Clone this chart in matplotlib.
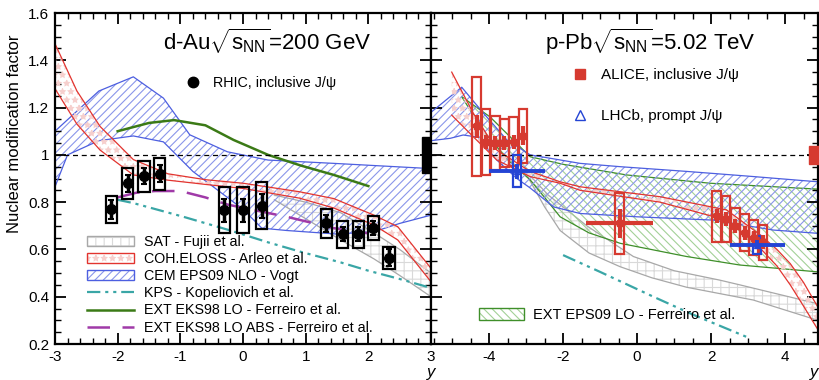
import numpy as np
import matplotlib
matplotlib.use('Agg')
import matplotlib.pyplot as plt
from matplotlib.patches import Patch, Rectangle
from matplotlib.lines import Line2D
from matplotlib.legend_handler import HandlerTuple
from matplotlib.ticker import MultipleLocator, FuncFormatter
import matplotlib.transforms as mtransforms

plt.rcParams['font.family'] = ['Liberation Sans', 'DejaVu Sans']
plt.rcParams['mathtext.fontset'] = 'custom'
plt.rcParams['mathtext.rm'] = 'Liberation Sans'
plt.rcParams['mathtext.it'] = 'Liberation Sans:italic'
plt.rcParams['hatch.linewidth'] = 0.8

# ---------------- data: d-Au 200 GeV (RHIC) ----------------
rhic_y = [-2.10, -1.84, -1.58, -1.33, -0.30, 0.0, 0.30, 1.33, 1.59, 1.84, 2.08, 2.33]
rhic_R = [0.77, 0.88, 0.91, 0.92, 0.765, 0.765, 0.785, 0.71, 0.665, 0.665, 0.69, 0.565]
rhic_stat = [0.04, 0.035, 0.035, 0.035, 0.05, 0.05, 0.05, 0.035, 0.03, 0.03, 0.03, 0.035]
rhic_syst = [0.057, 0.065, 0.065, 0.068, 0.097, 0.097, 0.10, 0.06, 0.057, 0.057, 0.05, 0.047]
rhic_global = 0.075

# models, left panel
sat_l_x = [0.5, 1.0, 1.56, 2.09, 2.5, 3.0]
sat_l_up = [0.83, 0.80, 0.755, 0.67, 0.60, 0.50]
sat_l_lo = [0.81, 0.73, 0.64, 0.56, 0.49, 0.40]

coh_l_x = [-3.0, -2.65, -2.28, -1.75, -1.2, -0.6, 0.0, 0.9, 1.45, 2.09, 2.47, 3.0]
coh_l_up = [1.47, 1.27, 1.12, 0.98, 0.92, 0.895, 0.88, 0.844, 0.815, 0.745, 0.696, 0.52]
coh_l_lo = [1.28, 1.13, 1.02, 0.915, 0.893, 0.875, 0.858, 0.817, 0.775, 0.703, 0.64, 0.463]

cem_l_xup = [-3.0, -2.3, -1.75, -1.27, -0.85, -0.25, 0.4, 1.45, 2.85, 3.0]
cem_l_up = [1.10, 1.27, 1.33, 1.24, 1.085, 1.013, 0.978, 0.964, 0.944, 0.945]
cem_l_xlo = [-3.0, -2.8, -2.3, -1.75, -1.27, -0.8, -0.4, 0.0, 0.3, 0.7, 1.5, 2.09, 2.5, 3.0]
cem_l_lo = [0.865, 1.0, 1.06, 1.08, 1.055, 0.93, 0.85, 0.77, 0.69, 0.68, 0.665, 0.675, 0.71, 0.745]

kps_l_x = [-2.0, -1.75, -0.95, -0.2, 0.4, 0.92, 1.56, 2.0, 2.5, 3.0]
kps_l = [0.81, 0.796, 0.738, 0.68, 0.63, 0.59, 0.545, 0.51, 0.475, 0.437]

eks_x = [-2.0, -1.5, -1.1, -0.6, -0.15, 0.4, 0.92, 1.45, 2.0]
eks = [1.10, 1.135, 1.147, 1.125, 1.063, 1.0, 0.955, 0.915, 0.868]

eks_abs_x = [-2.0, -1.7, -1.4, -1.0, -0.6, -0.25, 0.2, 0.7, 1.45, 2.0]
eks_abs = [0.82, 0.84, 0.847, 0.847, 0.82, 0.79, 0.765, 0.738, 0.69, 0.668]

# ---------------- data: p-Pb 5.02 TeV (LHC) ----------------
alice_y = [-4.335, -4.085, -3.835, -3.585, -3.335, -3.085, -0.47,
           2.155, 2.405, 2.655, 2.905, 3.155, 3.405]
alice_dy = [0.125, 0.125, 0.125, 0.125, 0.125, 0.125, 0.90,
            0.125, 0.125, 0.125, 0.125, 0.125, 0.125]
alice_R = [1.12, 1.055, 1.05, 1.05, 1.055, 1.08, 0.71,
           0.74, 0.73, 0.70, 0.67, 0.65, 0.63]
alice_stat = [0.05, 0.03, 0.03, 0.03, 0.03, 0.04, 0.06,
              0.03, 0.03, 0.03, 0.03, 0.03, 0.03]
alice_syst = [0.21, 0.14, 0.115, 0.10, 0.104, 0.113, 0.13,
              0.108, 0.098, 0.077, 0.078, 0.074, 0.073]
alice_global = 0.037

lhcb_y = [-3.25, 3.25]
lhcb_dy = [0.75, 0.75]
lhcb_R = [0.93, 0.62]
lhcb_stat = [0.03, 0.02]
lhcb_syst = [0.068, 0.038]

cem_r_xup = [-5.57, -4.74, -4.15, -3.52, -2.89, -1.54, -0.46, 1.34, 3.0, 4.89]
cem_r_up = [1.18, 1.286, 1.176, 1.063, 1.0, 0.964, 0.95, 0.93, 0.91, 0.886]
cem_r_xlo = [-5.57, -5.05, -4.7, -4.3, -3.79, -3.25, -2.89, -2.26, -1.54, 0.0, 2.06, 3.68, 4.89]
cem_r_lo = [1.06, 1.07, 1.084, 1.075, 0.978, 0.90, 0.86, 0.78, 0.752, 0.738, 0.724, 0.682, 0.668]

eps_xup = [-4.74, -3.97, -3.43, -2.89, -2.0, -0.28, 1.97, 4.89]
eps_up = [1.246, 1.16, 1.076, 0.992, 0.96, 0.915, 0.88, 0.855]
eps_xlo = [-4.74, -4.15, -3.5, -2.89, -2.5, -2.08, -1.3, -0.46, 1.34, 2.78, 4.89]
eps_lo = [1.246, 1.10, 0.98, 0.894, 0.82, 0.738, 0.67, 0.626, 0.57, 0.534, 0.505]

sat_r_xup = [-3.0, -2.4, -1.36, -0.1, 1.0, 2.24, 2.78, 4.89]
sat_r_up = [0.93, 0.83, 0.70, 0.57, 0.51, 0.47, 0.45, 0.37]
sat_r_xlo = [-3.0, -2.5, -2.08, -1.3, -0.46, 0.4, 1.34, 3.14, 4.89]
sat_r_lo = [0.92, 0.78, 0.68, 0.585, 0.527, 0.48, 0.44, 0.386, 0.30]

coh_r_xup = [-5.01, -4.43, -3.79, -2.89, -2.08, -1.54, 0.62, 2.42, 2.78, 3.3, 3.78, 4.14, 4.5, 4.89]
coh_r_up = [1.35, 1.177, 1.02, 0.93, 0.886, 0.865, 0.823, 0.767, 0.725, 0.665, 0.60, 0.54, 0.46, 0.355]
coh_r_xlo = [-5.01, -4.43, -3.79, -2.89, -2.08, -1.54, 0.62, 2.42, 2.78, 3.3, 3.78, 4.14, 4.5, 4.89]
coh_r_lo = [1.168, 1.077, 0.978, 0.908, 0.88, 0.85, 0.80, 0.724, 0.68, 0.61, 0.53, 0.45, 0.36, 0.26]

kps_r_x = [-2.0, -1.0, 0.44, 1.5, 2.96]
kps_r = [0.576, 0.505, 0.40, 0.325, 0.23]

# ---------------- styles ----------------
c_cem, c_cem_h = '#4d5fe0', '#8a96ea'
c_coh, c_coh_h = '#e2342f', '#f6cfcd'
c_sat, c_sat_h = '#a8a8a8', '#d9d9d9'
c_eps, c_eps_h = '#3f8f2a', '#a3d197'
c_eks = '#3b7a16'
c_abs = '#a03aa8'
c_kps = '#3aa6a6'
c_alice = '#d63a30'
c_lhcb = '#2444d4'
kps_dash = (6, 2.2, 1.4, 2.2, 1.4, 2.2)
coh_hatch = '**'


def band(ax, xu, yu, xl, yl, hatch, hcolor, lcolor, lw=0.9, z=1):
    xs = np.concatenate([xu, xl[::-1]])
    ys = np.concatenate([yu, yl[::-1]])
    ax.fill(xs, ys, facecolor='none', edgecolor=hcolor, hatch=hatch, lw=0, zorder=z)
    ax.plot(xu, yu, color=lcolor, lw=lw, zorder=z + 0.1)
    ax.plot(xl, yl, color=lcolor, lw=lw, zorder=z + 0.1)


def syst_boxes(ax, x, y, s, w, color, lw=1.6):
    for xi, yi, si in zip(x, y, s):
        ax.add_patch(Rectangle((xi - w / 2, yi - si), w, 2 * si, fill=False,
                               edgecolor=color, lw=lw, zorder=6))


fig = plt.figure(figsize=(8.2, 3.8), dpi=100)
axL = fig.add_axes([55 / 820, 36 / 380, 376 / 820, 331 / 380])
axR = fig.add_axes([431 / 820, 36 / 380, 387 / 820, 331 / 380], sharey=axL)

# ---- left panel ----
band(axL, sat_l_x, sat_l_up, sat_l_x, sat_l_lo, '++', c_sat_h, c_sat, z=1)
band(axL, coh_l_x, coh_l_up, coh_l_x, coh_l_lo, coh_hatch, c_coh_h, c_coh, z=2)
band(axL, cem_l_xup, cem_l_up, cem_l_xlo, cem_l_lo, '////', c_cem_h, c_cem, z=1.5)
axL.plot(kps_l_x, kps_l, color=c_kps, lw=1.6, dashes=kps_dash, zorder=3)
axL.plot(eks_x, eks, color=c_eks, lw=1.8, zorder=3)
axL.plot(eks_abs_x, eks_abs, color=c_abs, lw=1.8, dashes=(9, 5), zorder=3)

syst_boxes(axL, rhic_y, rhic_R, rhic_syst, 0.18, 'k')
axL.errorbar(rhic_y, rhic_R, yerr=rhic_stat, fmt='o', color='k', ms=7,
             elinewidth=2.5, capsize=2, capthick=1.5, zorder=7)

trL = mtransforms.blended_transform_factory(axL.transAxes, axL.transData)
axL.add_patch(Rectangle((0.975, 1 - rhic_global), 0.03, 2 * rhic_global,
                        transform=trL, color='k', clip_on=False, zorder=8))

# ---- right panel ----
band(axR, sat_r_xup, sat_r_up, sat_r_xlo, sat_r_lo, '++', c_sat_h, c_sat, z=1)
band(axR, eps_xup, eps_up, eps_xlo, eps_lo, '\\\\\\\\', c_eps_h, c_eps, z=1.2)
band(axR, cem_r_xup, cem_r_up, cem_r_xlo, cem_r_lo, '////', c_cem_h, c_cem, z=1.5)
band(axR, coh_r_xup, coh_r_up, coh_r_xlo, coh_r_lo, coh_hatch, c_coh_h, c_coh, z=2)
axR.plot(kps_r_x, kps_r, color=c_kps, lw=1.6, dashes=kps_dash, zorder=3)

syst_boxes(axR, alice_y, alice_R, alice_syst, 0.24, c_alice)
axR.errorbar(alice_y, alice_R, xerr=alice_dy, yerr=alice_stat, fmt='s',
             color=c_alice, ms=5, elinewidth=3, capsize=0, zorder=7)
syst_boxes(axR, lhcb_y, lhcb_R, lhcb_syst, 0.22, c_lhcb)
axR.errorbar(lhcb_y, lhcb_R, xerr=lhcb_dy, yerr=lhcb_stat, fmt='^',
             color=c_lhcb, mfc='none', ms=5, elinewidth=2.8, capsize=0, zorder=8)

trR = mtransforms.blended_transform_factory(axR.transAxes, axR.transData)
axR.add_patch(Rectangle((0.977, 1 - alice_global), 0.025, 2 * alice_global,
                        transform=trR, color=c_alice, clip_on=False, zorder=8))

# ---- axes cosmetics ----
for ax in (axL, axR):
    ax.axhline(1.0, color='k', lw=0.9, dashes=(4, 3), zorder=4)
    for sp in ax.spines.values():
        sp.set_linewidth(1.6)
    ax.tick_params(which='both', direction='in', top=True, right=True,
                   labelsize=11, pad=4)
    ax.tick_params(which='major', length=8, width=1.3)
    ax.tick_params(which='minor', length=4.5, width=1.0)
    ax.yaxis.set_major_locator(MultipleLocator(0.2))
    ax.yaxis.set_minor_locator(MultipleLocator(0.05))
    ax.xaxis.set_major_formatter(FuncFormatter(lambda v, p: '%g' % v))
    ax.yaxis.set_major_formatter(FuncFormatter(lambda v, p: '%g' % round(v, 2)))

axL.set_xlim(-3, 3)
axL.set_ylim(0.2, 1.6)
axL.xaxis.set_major_locator(MultipleLocator(1))
axL.xaxis.set_minor_locator(MultipleLocator(0.2))
axR.set_xlim(-5.57, 4.89)
axR.xaxis.set_major_locator(MultipleLocator(2))
axR.xaxis.set_minor_locator(MultipleLocator(0.5))
axR.tick_params(labelleft=False)

fig.text(15 / 820, 1 - 134 / 380, 'Nuclear modification factor', rotation=90,
         ha='center', va='center', fontsize=12)
axL.text(1.0, -0.085, 'y', transform=axL.transAxes, ha='center', va='center',
         fontsize=12, style='italic')
axR.text(1.0, -0.085, 'y', transform=axR.transAxes, ha='right', va='center',
         fontsize=12, style='italic')

axL.text(0.565, 0.915, r'd-Au$\sqrt{\mathrm{s}_{\mathrm{NN}}}$=200 GeV',
         transform=axL.transAxes, ha='center', va='center', fontsize=16)
axR.text(0.566, 0.915, r'p-Pb$\sqrt{\mathrm{s}_{\mathrm{NN}}}$=5.02 TeV',
         transform=axR.transAxes, ha='center', va='center', fontsize=16)

# ---- legends ----
hmap = {tuple: HandlerTuple(ndivide=1, pad=0)}
h_sat = (Patch(facecolor='white', edgecolor=c_sat_h, hatch='++', lw=0),
         Patch(facecolor='none', edgecolor=c_sat, lw=1))
h_coh = (Patch(facecolor='white', edgecolor=c_coh_h, hatch=coh_hatch, lw=0),
         Patch(facecolor='none', edgecolor=c_coh, lw=1))
h_cem = (Patch(facecolor='white', edgecolor=c_cem_h, hatch='////', lw=0),
         Patch(facecolor='none', edgecolor=c_cem, lw=1))
h_eps = (Patch(facecolor='white', edgecolor=c_eps_h, hatch='\\\\\\\\', lw=0),
         Patch(facecolor='none', edgecolor=c_eps, lw=1))
h_kps = Line2D([], [], color=c_kps, lw=1.6, dashes=kps_dash)
h_eks = Line2D([], [], color=c_eks, lw=1.8)
h_abs = Line2D([], [], color=c_abs, lw=1.8, dashes=(9, 5))

legL = axL.legend([h_sat, h_coh, h_cem, h_kps, h_eks, h_abs],
                  ['SAT - Fujii et al.', 'COH.ELOSS - Arleo et al.',
                   'CEM EPS09 NLO - Vogt', 'KPS - Kopeliovich et al.',
                   'EXT EKS98 LO - Ferreiro et al.',
                   'EXT EKS98 LO ABS - Ferreiro et al.'],
                  handler_map=hmap, loc='upper left', bbox_to_anchor=(0.058, 0.36),
                  frameon=False, fontsize=10.3, handlelength=3.3, handleheight=0.65,
                  labelspacing=0.22, handletextpad=0.7, borderpad=0.2)
legL.set_zorder(10)
axL.add_artist(legL)
h_rhic = Line2D([], [], ls='none', marker='o', color='k', ms=7.5)
legD = axL.legend([h_rhic], [u'RHIC, inclusive J/\u03c8'], loc='center left',
                  bbox_to_anchor=(0.315, 0.79), frameon=False, fontsize=10.3,
                  handlelength=1.0, handletextpad=0.9)

legR = axR.legend([h_eps], ['EXT EPS09 LO - Ferreiro et al.'], handler_map=hmap,
                  loc='center left', bbox_to_anchor=(0.09, 0.088), frameon=False,
                  fontsize=10.5, handlelength=3.1, handleheight=0.9, handletextpad=0.6)
legR.set_zorder(10)
axR.add_artist(legR)
h_alice = Line2D([], [], ls='none', marker='s', color=c_alice, ms=7)
h_lhcb = Line2D([], [], ls='none', marker='^', color=c_lhcb, mfc='none', ms=7)
axR.legend([h_alice, h_lhcb], [u'ALICE, inclusive J/\u03c8', u'LHCb, prompt J/\u03c8'],
           loc='upper left', bbox_to_anchor=(0.33, 0.875), frameon=False, fontsize=11,
           handlelength=1.0, handletextpad=0.9, labelspacing=1.75)

fig.savefig('out.png', dpi=100)
